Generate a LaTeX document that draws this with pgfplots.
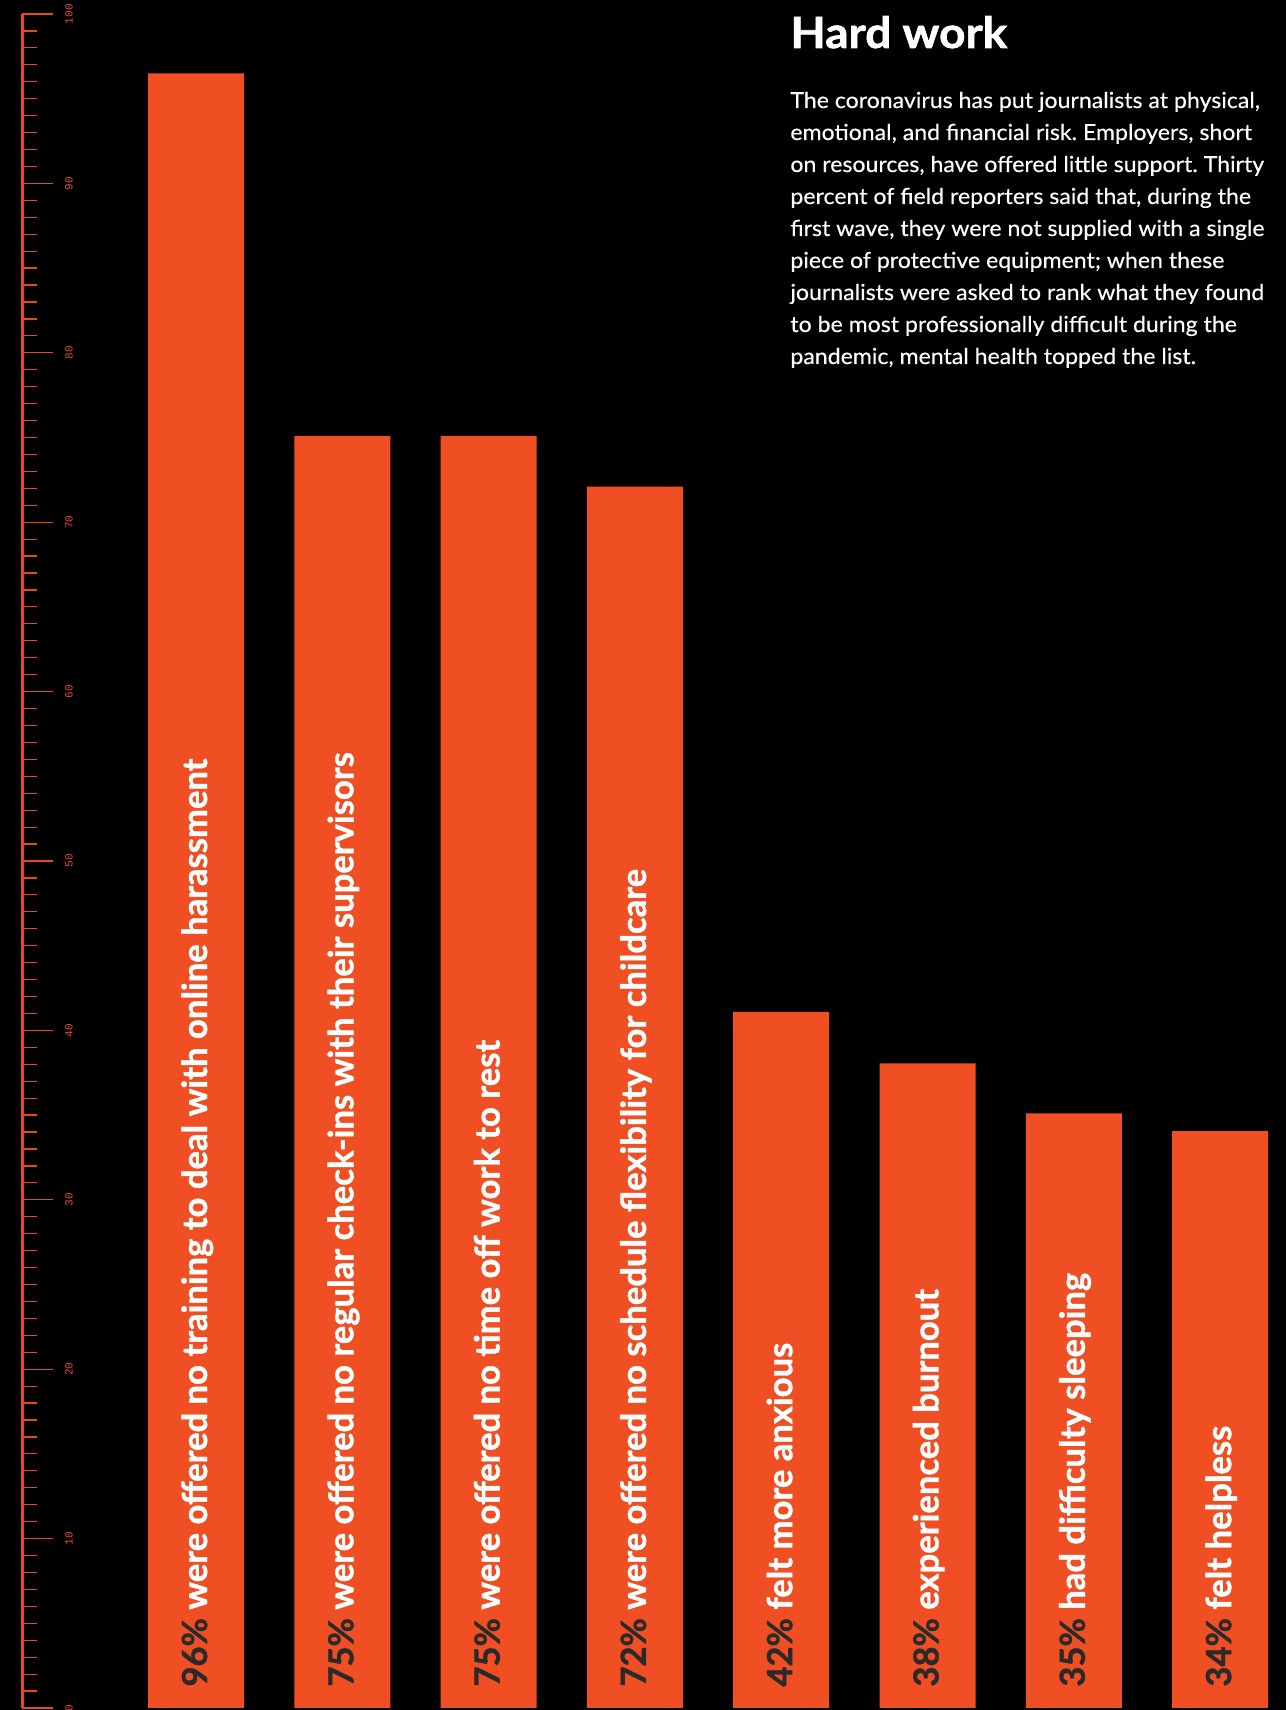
\documentclass[border=0pt]{standalone}
\usepackage{pgfplots}
\pgfplotsset{compat=1.18}
\usepackage{fontspec}
\setmainfont{Lato}
\setmonofont{Liberation Mono}
\newfontfamily\barfont{Lato}[BoldFeatures={FakeBold=1.2}]
\newfontfamily\titlefont{Lato}[BoldFeatures={FakeBold=1.5, FakeStretch=1.07}]
\newfontfamily\bodyfont{Lato}[FakeStretch=1.05, FakeBold=0.3]
\frenchspacing

\definecolor{barc}{HTML}{F04F24}
\definecolor{axisc}{HTML}{E9481F}
\definecolor{pct}{HTML}{2A2A2A}

\tikzset{barlab/.style={shift={(5.5pt,10.5pt)}, rotate=90, anchor=base west, inner sep=0pt,
    text=white, font=\barfont\bfseries\fontsize{17.3}{19}\selectfont}}

\begin{document}
\begin{tikzpicture}[x=1pt,y=1pt]
\fill[black, use as bounding box] (0,0) rectangle (643,855);

\begin{axis}[
    at={(11pt,1pt)}, anchor=south west,
    scale only axis,
    width=632pt, height=847pt,
    xmin=-1.1894, xmax=7.4504,
    ymin=0, ymax=100,
    axis x line=none,
    axis y line*=left,
    y axis line style={axisc, line width=1.5pt},
    ytick={0,10,...,100},
    minor y tick num=9,
    tick align=inside,
    major tick length=15.5pt,
    minor tick length=7.5pt,
    every tick/.style={axisc, line width=0.6pt},
    /pgf/number format/assume math mode=true,
    yticklabel style={xshift=23.5pt, rotate=90, anchor=center,
        font=\ttfamily\fontsize{5.6}{6}\selectfont, text=axisc},
    clip=false,
]
  % read off the bar tops
  \addplot[ybar, bar width=48pt, fill=barc, draw=none] coordinates {
    (0,96.5) (1,75.1) (2,75.1) (3,72.1) (4,41.1) (5,38.05) (6,35.1) (7,34.05)
  };

  \node[barlab] at (axis cs:0,0) {{\color{pct}96\%} were offered no training to deal with online harassment};
  \node[barlab] at (axis cs:1,0) {{\color{pct}75\%} were offered no regular check-ins with their supervisors};
  \node[barlab] at (axis cs:2,0) {{\color{pct}75\%} were offered no time off work to rest};
  \node[barlab] at (axis cs:3,0) {{\color{pct}72\%} were offered no schedule flexibility for childcare};
  \node[barlab] at (axis cs:4,0) {{\color{pct}42\%} felt more anxious};
  \node[barlab] at (axis cs:5,0) {{\color{pct}38\%} experienced burnout};
  \node[barlab] at (axis cs:6,0) {{\color{pct}35\%} had difficulty sleeping};
  \node[barlab] at (axis cs:7,0) {{\color{pct}34\%} felt helpless};
\end{axis}

\node[anchor=base west, inner sep=0pt, text=white,
      font=\titlefont\bfseries\fontsize{21.5}{24}\selectfont] at (395,831) {Hard work};

\foreach \t [count=\k] in {
    {The coronavirus has put journalists at physical,},
    {emotional, and financial risk. Employers, short},
    {on resources, have offered little support. Thirty},
    {percent of field reporters said that, during the},
    {first wave, they were not supplied with a single},
    {piece of protective equipment; when these},
    {journalists were asked to rank what they found},
    {to be most professionally difficult during the},
    {pandemic, mental health topped the list.}} {
  \node[anchor=base west, inner sep=0pt, text=white,
        font=\bodyfont\fontsize{11}{12}\selectfont] at (395,{801-16*(\k-1)}) {\t};
}
\end{tikzpicture}
\end{document}
